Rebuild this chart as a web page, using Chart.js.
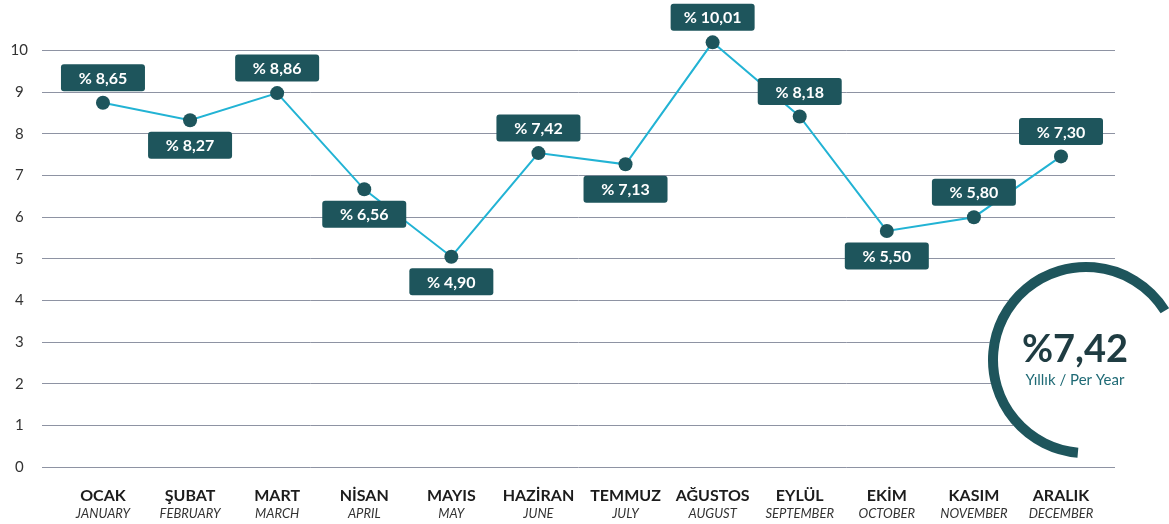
<!DOCTYPE html>
<html>
<head>
<meta charset="utf-8">
<script src="https://cdn.jsdelivr.net/npm/chart.js@4/dist/chart.umd.min.js"></script>
<style>
  body { margin: 0; background: #ffffff; }
  #wrap { width: 1169px; height: 524px; }
</style>
</head>
<body>
<div id="wrap"><canvas id="inflationChart" width="1169" height="524"></canvas></div>
<script>
// Aylar (TR / EN)
const monthsTR = ['OCAK', 'ŞUBAT', 'MART', 'NİSAN', 'MAYIS', 'HAZİRAN', 'TEMMUZ', 'AĞUSTOS', 'EYLÜL', 'EKİM', 'KASIM', 'ARALIK'];
const monthsEN = ['JANUARY', 'FEBRUARY', 'MARCH', 'APRIL', 'MAY', 'JUNE', 'JULY', 'AUGUST', 'SEPTEMBER', 'OCTOBER', 'NOVEMBER', 'DECEMBER'];
// Noktalarin grafikteki yerleri
const monthlyValues = [8.75, 8.33, 8.98, 6.67, 5.05, 7.54, 7.27, 10.2, 8.42, 5.67, 6.0, 7.46];
// Etiket metinleri
const valueLabels = ['% 8,65', '% 8,27', '% 8,86', '% 6,56', '% 4,90', '% 7,42', '% 7,13', '% 10,01', '% 8,18', '% 5,50', '% 5,80', '% 7,30'];
const labelSide = ['up', 'down', 'up', 'down', 'down', 'up', 'down', 'up', 'up', 'down', 'up', 'up'];
const yTicks = [0, 1, 2, 3, 4, 5, 6, 7, 8, 9, 10];
const yearlyValue = '%7,42';
const yearlyText = 'Yıllık / Per Year';

const teal = '#1e555c';
const FONT = 'Lato, "Open Sans", sans-serif';

function roundRect(ctx, x, y, w, h, r) {
    ctx.beginPath();
    ctx.moveTo(x + r, y);
    ctx.lineTo(x + w - r, y);
    ctx.quadraticCurveTo(x + w, y, x + w, y + r);
    ctx.lineTo(x + w, y + h - r);
    ctx.quadraticCurveTo(x + w, y + h, x + w - r, y + h);
    ctx.lineTo(x + r, y + h);
    ctx.quadraticCurveTo(x, y + h, x, y + h - r);
    ctx.lineTo(x, y + r);
    ctx.quadraticCurveTo(x, y, x + r, y);
    ctx.closePath();
}

// Etiket kutulari
const badgePlugin = {
    id: 'badges',
    afterDatasetsDraw(chart) {
        const ctx = chart.ctx;
        const meta = chart.getDatasetMeta(0);
        ctx.save();
        meta.data.forEach((pt, i) => {
            const w = 84, h = 27;
            const cy = labelSide[i] === 'up' ? pt.y - 25 : pt.y + 25;
            roundRect(ctx, pt.x - w / 2, cy - h / 2, w, h, 3);
            ctx.fillStyle = teal;
            ctx.fill();
            ctx.fillStyle = '#ffffff';
            ctx.font = 'bold 16px ' + FONT;
            ctx.textAlign = 'center';
            ctx.textBaseline = 'middle';
            ctx.fillText(valueLabels[i], pt.x, cy + 1);
        });
        ctx.restore();
    }
};

// Ay isimleri (iki satir, farkli font)
const monthLabelPlugin = {
    id: 'monthLabels',
    afterDraw(chart) {
        const ctx = chart.ctx;
        const xs = chart.scales.x;
        ctx.save();
        ctx.textAlign = 'center';
        ctx.textBaseline = 'middle';
        monthsTR.forEach((m, i) => {
            const x = xs.getPixelForValue(i);
            ctx.fillStyle = '#1c1c1c';
            ctx.font = 'bold 16px ' + FONT;
            ctx.fillText(m, x, 496);
            ctx.fillStyle = '#333333';
            ctx.font = 'italic 13px ' + FONT;
            ctx.fillText(monthsEN[i], x, 514);
        });
        ctx.restore();
    }
};

// Yillik oran halkasi
const ringPlugin = {
    id: 'yearRing',
    afterDraw(chart) {
        const ctx = chart.ctx;
        const cx = 1086, cy = 360, r = 93;
        ctx.save();
        ctx.beginPath();
        ctx.arc(cx, cy, r + 5, 0, Math.PI * 2);
        ctx.fillStyle = '#ffffff';
        ctx.fill();
        ctx.beginPath();
        ctx.arc(cx, cy, r, 95 * Math.PI / 180, 328 * Math.PI / 180);
        ctx.strokeStyle = teal;
        ctx.lineWidth = 10;
        ctx.stroke();
        ctx.textAlign = 'center';
        ctx.textBaseline = 'alphabetic';
        ctx.fillStyle = '#1f3c42';
        ctx.font = 'bold 38px ' + FONT;
        ctx.fillText(yearlyValue, 1075, 362);
        ctx.fillStyle = '#1f6a75';
        ctx.font = '15px ' + FONT;
        ctx.fillText(yearlyText, 1075, 385);
        ctx.restore();
    }
};

const ctx = document.getElementById('inflationChart').getContext('2d');
new Chart(ctx, {
    type: 'line',
    data: {
        datasets: [{
            data: monthlyValues.map((v, i) => ({ x: i, y: v })),
            borderColor: '#22b3d4',
            borderWidth: 2,
            pointRadius: 7,
            pointBackgroundColor: teal,
            pointBorderColor: teal,
            pointBorderWidth: 0,
            tension: 0,
            clip: false
        }]
    },
    options: {
        responsive: false,
        animation: false,
        layout: { padding: { top: 34, right: 54, bottom: 57, left: 0 } },
        plugins: {
            legend: { display: false },
            tooltip: { enabled: false }
        },
        scales: {
            x: {
                type: 'linear',
                display: false,
                min: -0.70,
                max: 11.62
            },
            y: {
                min: 0,
                max: 10.4,
                afterFit(scale) { scale.width = 42; },
                afterBuildTicks(scale) { scale.ticks = yTicks.map(v => ({ value: v })); },
                border: { display: false },
                grid: { color: '#8e93a3', lineWidth: 1, drawTicks: false },
                ticks: {
                    crossAlign: 'center',
                    padding: 14,
                    color: '#333333',
                    font: { family: FONT, size: 15 }
                }
            }
        }
    },
    plugins: [badgePlugin, monthLabelPlugin, ringPlugin]
});
</script>
</body>
</html>
